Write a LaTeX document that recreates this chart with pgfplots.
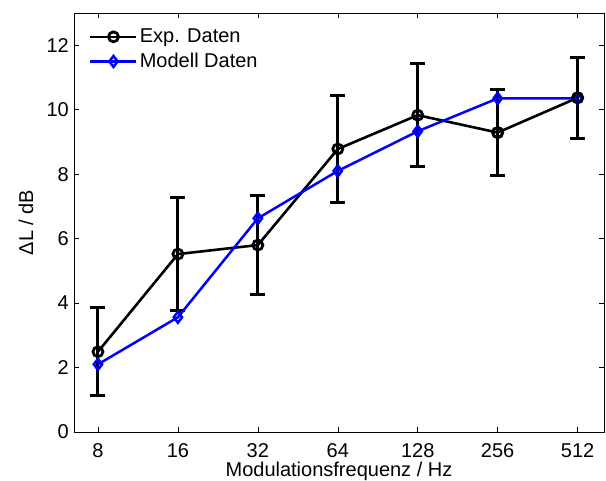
\documentclass[border=0pt]{standalone}
\usepackage{fontspec}
\setmainfont{Liberation Sans}
\usepackage{pgfplots}
\pgfplotsset{compat=1.18}

\begin{document}
\begin{tikzpicture}[font=\fontsize{20}{24}\selectfont]
\path[use as bounding box] (-74pt,-49pt) rectangle (532pt,432pt);
\begin{axis}[
  name=ax, at={(0,0)}, anchor=south west,
  scale only axis, width=530pt, height=419pt,
  xmin=2.7, xmax=9.33, ymin=0, ymax=13,
  xtick={3,...,9}, xticklabels={8,16,32,64,128,256,512},
  ytick={0,2,...,12},
  tick align=inside, major tick length=5pt,
  tick style={black, line width=0.6pt},
  axis line style={line width=0.8pt},
  /pgf/number format/assume math mode=true,
  xticklabel style={inner sep=0pt, yshift=-11pt},
  yticklabel style={inner sep=0pt, xshift=-5pt},
  xlabel={Modulationsfrequenz / Hz},
  xlabel style={at={(axis description cs:0.5,0)}, anchor=base, yshift=-45pt},
  ylabel={ΔL / dB},
  ylabel style={at={(axis description cs:-0.0906,0.5)}, anchor=center},
  legend style={draw=none, fill=none, at={(axis description cs:0,1)},
    anchor=north west, xshift=12pt, yshift=-12pt, row sep=5pt,
    font=\fontsize{20}{24}\selectfont},
  legend cell align=left,
  legend image code/.code={\draw[mark repeat=2, mark phase=2, #1]
    plot coordinates {(0pt,0pt) (23pt,0pt) (46pt,0pt)};},
]
\addplot[black, line width=2.6pt, mark=o, mark size=5pt,
  mark options={solid, line width=2.8pt},
  error bars/.cd, y dir=both, y explicit,
  error bar style={line width=3pt},
  error mark options={black, line width=3pt, mark size=7.5pt, rotate=90}]
  table[x=x, y=y, y error=e] {
  x   y     e
  3   2.49  1.37
  4   5.52  1.75
  5   5.80  1.53
  6   8.78  1.66
  7   9.83  1.59
  8   9.29  1.33
  9   10.37 1.26
};
\addlegendentry{Exp. Daten}
\addplot[blue, line width=2.5pt, mark=diamond, mark size=5.5pt,
  mark options={solid, line width=2.5pt}]
  table[x=x, y=y] {
  x   y
  3   2.10
  4   3.56
  5   6.63
  6   8.10
  7   9.33
  8   10.35
  9   10.35
};
\addlegendentry{Modell Daten}
\addplot[black, only marks, mark=o, mark size=5pt,
  mark options={solid, line width=2.8pt}, forget plot]
  table[x=x, y=y] {
  x   y
  8   9.29
  9   10.37
};
\end{axis}
\end{tikzpicture}
\end{document}
